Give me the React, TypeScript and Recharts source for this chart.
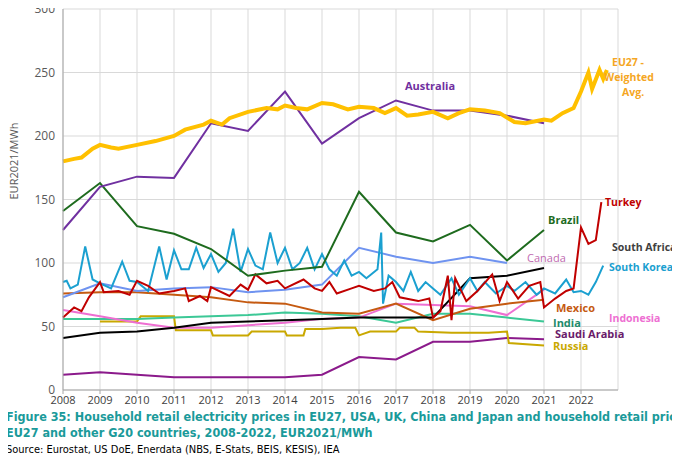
import React from "react";
import { CartesianGrid, Line, LineChart, XAxis, YAxis } from "recharts";

const years = [2008, 2009, 2010, 2011, 2012, 2013, 2014, 2015, 2016, 2017, 2018, 2019, 2020, 2021, 2022];
const yTicks = [0, 50, 100, 150, 200, 250, 300];

const eu27 = [
  [2008, 180], [2008.3, 182], [2008.5, 183], [2008.8, 190], [2009, 193], [2009.3, 191], [2009.5, 190], [2010, 193],
  [2010.5, 196], [2011, 200], [2011.3, 205], [2011.8, 209], [2012, 212], [2012.3, 209], [2012.5, 214], [2013, 219],
  [2013.5, 222], [2013.8, 221], [2014, 224], [2014.3, 222], [2014.6, 221], [2015, 226], [2015.3, 225], [2015.7, 221],
  [2016, 223], [2016.4, 222], [2016.7, 218], [2017, 222], [2017.3, 216], [2017.6, 217], [2018, 219], [2018.4, 214],
  [2018.7, 218], [2019, 221], [2019.4, 220], [2019.8, 218], [2020.2, 211], [2020.5, 210], [2021, 213], [2021.2, 212],
  [2021.5, 218], [2021.8, 222], [2022, 235], [2022.2, 250], [2022.3, 237], [2022.5, 252], [2022.6, 245], [2022.7, 252],
];
const australia = [
  [2008, 126], [2009, 160], [2010, 168], [2011, 167], [2012, 210], [2013, 204], [2014, 235], [2015, 194],
  [2016, 214], [2017, 228], [2018, 220], [2019, 220], [2020, 216], [2021, 210],
];
const brazil = [
  [2008, 141], [2009, 163], [2010, 129], [2011, 123], [2012, 111], [2013, 90], [2014, 94], [2015, 97],
  [2016, 156], [2017, 124], [2018, 117], [2019, 130], [2020, 102], [2021, 126],
];
const canada = [
  [2008, 73], [2009, 84], [2010, 78], [2011, 80], [2012, 81], [2013, 77], [2014, 79], [2015, 83],
  [2016, 112], [2017, 105], [2018, 100], [2019, 105], [2020, 100],
];
const southKorea = [
  [2008, 85], [2008.1, 86], [2008.2, 80], [2008.4, 83], [2008.6, 113], [2008.8, 87], [2009, 84], [2009.3, 80],
  [2009.6, 101], [2009.8, 86], [2010, 85], [2010.3, 78], [2010.6, 113], [2010.8, 87], [2011, 110], [2011.2, 95],
  [2011.4, 95], [2011.6, 112], [2011.8, 96], [2012, 107], [2012.2, 93], [2012.4, 100], [2012.6, 127], [2012.8, 93],
  [2013, 111], [2013.2, 98], [2013.4, 95], [2013.6, 124], [2013.8, 100], [2014, 112], [2014.2, 95], [2014.4, 100],
  [2014.6, 112], [2014.8, 95], [2015, 107], [2015.2, 95], [2015.4, 90], [2015.6, 102], [2015.8, 90], [2016, 93],
  [2016.2, 88], [2016.5, 95], [2016.6, 124], [2016.65, 68], [2016.8, 90], [2017, 85], [2017.2, 78], [2017.4, 93],
  [2017.6, 78], [2017.8, 85], [2018, 80], [2018.2, 75], [2018.5, 88], [2018.7, 75], [2019, 88], [2019.2, 78],
  [2019.4, 85], [2019.7, 76], [2020, 82], [2020.2, 78], [2020.5, 85], [2020.8, 75], [2021, 80], [2021.3, 76],
  [2021.6, 87], [2021.8, 77], [2022, 78], [2022.2, 75], [2022.4, 85], [2022.6, 98],
];
const turkey = [
  [2008, 57], [2008.3, 65], [2008.5, 62], [2008.7, 73], [2009, 85], [2009.1, 77], [2009.5, 78], [2009.8, 75],
  [2010, 86], [2010.3, 82], [2010.6, 76], [2011, 78], [2011.3, 80], [2011.4, 70], [2011.7, 74], [2011.9, 70],
  [2012, 81], [2012.5, 74], [2012.8, 83], [2013, 79], [2013.2, 91], [2013.5, 84], [2013.8, 86], [2014, 80],
  [2014.5, 87], [2014.8, 80], [2015, 78], [2015.2, 85], [2015.4, 76], [2015.8, 80], [2016, 82], [2016.4, 78],
  [2016.7, 80], [2016.9, 85], [2017.1, 73], [2017.6, 70], [2017.9, 72], [2018, 57], [2018.2, 62], [2018.4, 90],
  [2018.5, 55], [2018.6, 88], [2018.9, 70], [2019.2, 78], [2019.6, 91], [2019.8, 70], [2020, 85], [2020.3, 72],
  [2020.6, 82], [2020.9, 85], [2021, 65], [2021.3, 72], [2021.6, 78], [2021.8, 80], [2022, 128], [2022.2, 115],
  [2022.4, 118], [2022.55, 148],
];
const southAfrica = [
  [2008, 41], [2009, 45], [2010, 46], [2011, 49], [2012, 53], [2013, 54], [2014, 55], [2015, 56],
  [2016, 57], [2017, 57], [2018, 57], [2019, 88], [2020, 90], [2021, 96],
];
const mexico = [
  [2008, 76], [2009, 77], [2010, 77], [2011, 75], [2012, 73], [2013, 69], [2014, 68], [2015, 61],
  [2016, 60], [2017, 68], [2018, 55], [2019, 64], [2020, 68], [2021, 71],
];
const indonesia = [
  [2008, 63], [2009, 58], [2010, 53], [2011, 49], [2012, 49], [2013, 51], [2014, 53], [2015, 56],
  [2016, 57], [2017, 68], [2018, 67], [2019, 66], [2020, 59], [2021, 79],
];
const india = [
  [2008, 56], [2009, 56], [2010, 56], [2011, 57], [2012, 58], [2013, 59], [2014, 61], [2015, 60],
  [2016, 58], [2017, 53], [2018, 60], [2019, 60], [2020, 57], [2021, 54],
];
const russia = [
  [2009, 54], [2010, 54], [2010.1, 58], [2011, 58], [2011.05, 47], [2012, 47], [2012.05, 43], [2013, 43],
  [2013.1, 46], [2014, 46], [2014.05, 43], [2014.5, 43], [2014.55, 48], [2015, 48], [2015.5, 49], [2015.9, 49],
  [2016, 43], [2016.3, 46], [2017, 46], [2017.1, 49], [2017.5, 49], [2017.6, 46], [2018.5, 45], [2019.5, 45],
  [2020, 46], [2020.05, 37], [2021, 35],
];
const saudiArabia = [
  [2008, 12], [2009, 14], [2010, 12], [2011, 10], [2012, 10], [2013, 10], [2014, 10], [2015, 12],
  [2016, 26], [2017, 24], [2018, 38], [2019, 38], [2020, 41], [2021, 40],
];

const pts = (a: number[][]) => a.map(([x, y]) => ({ x, y }));

const series = [
  { name: "Saudi Arabia", data: saudiArabia, color: "#8b1a8b", w: 2 },
  { name: "Russia", data: russia, color: "#c9a800", w: 2 },
  { name: "India", data: india, color: "#3cc896", w: 2 },
  { name: "Indonesia", data: indonesia, color: "#ee6fd2", w: 2 },
  { name: "Mexico", data: mexico, color: "#c55a11", w: 2 },
  { name: "South Africa", data: southAfrica, color: "#000000", w: 2 },
  { name: "Canada", data: canada, color: "#6f93f0", w: 2 },
  { name: "South Korea", data: southKorea, color: "#1ba0d0", w: 2 },
  { name: "Turkey", data: turkey, color: "#c00000", w: 2 },
  { name: "Brazil", data: brazil, color: "#1e6b1e", w: 2 },
  { name: "Australia", data: australia, color: "#7030a0", w: 2 },
  { name: "EU27", data: eu27, color: "#ffc000", w: 4 },
];

const labels = [
  { t: "Australia", x: 405, y: 78, c: "#7030a0" },
  { t: "EU27 -", x: 612, y: 55, c: "#f5a623" },
  { t: "Weighted", x: 604, y: 70, c: "#f5a623" },
  { t: "Avg.", x: 622, y: 85, c: "#f5a623" },
  { t: "Turkey", x: 605, y: 195, c: "#c00000" },
  { t: "Brazil", x: 548, y: 212, c: "#1e6b1e" },
  { t: "South Africa", x: 612, y: 240, c: "#404040" },
  { t: "Canada", x: 527, y: 250, c: "#c06ab0", normal: true },
  { t: "South Korea", x: 609, y: 260, c: "#1ba0d0" },
  { t: "Mexico", x: 556, y: 300, c: "#c55a11" },
  { t: "Indonesia", x: 609, y: 311, c: "#ee6fd2" },
  { t: "India", x: 553, y: 315, c: "#1e8b6b" },
  { t: "Saudi Arabia", x: 555, y: 326, c: "#6a1b6a" },
  { t: "Russia", x: 553, y: 338, c: "#c9a800" },
];

const font = "'Open Sans', 'DejaVu Sans', sans-serif";
const captionFont = "'DejaVu Sans Condensed', 'Liberation Sans Narrow', 'DejaVu Sans', sans-serif";

export default function App() {
  return (
    <div style={{ position: "relative", width: 680, height: 463, margin: -8, background: "#fff", fontFamily: font }}>
      <LineChart width={680} height={410} margin={{ top: 9, right: 62, left: 0, bottom: 0 }}>
        <CartesianGrid stroke="#d9d9d9" />
        <XAxis
          dataKey="x"
          type="number"
          domain={[2008, 2023]}
          ticks={years}
          allowDuplicatedCategory={false}
          tick={{ fill: "#404040", fontSize: 11 }}
          stroke="#a6a6a6"
          tickSize={4}
          height={20}
        />
        <YAxis
          type="number"
          domain={[0, 300]}
          ticks={yTicks}
          width={63}
          tick={{ fill: "#595959", fontSize: 12 }}
          stroke="#a6a6a6"
          tickLine={false}
          label={{ value: "EUR2021/MWh", angle: -90, position: "insideLeft", offset: 14, style: { fill: "#595959", fontSize: 11 } }}
        />
        {series.map((s) => (
          <Line
            key={s.name}
            data={pts(s.data)}
            dataKey="y"
            type="linear"
            stroke={s.color}
            strokeWidth={s.w}
            dot={false}
            isAnimationActive={false}
          />
        ))}
      </LineChart>
      {labels.map((l) => (
        <div
          key={l.t}
          style={{
            position: "absolute",
            left: l.x,
            top: l.y,
            color: l.c,
            fontSize: l.x > 600 ? 10.5 : 11,
            fontWeight: l.normal ? 400 : 700,
            whiteSpace: "nowrap",
          }}
        >
          {l.t}
        </div>
      ))}
      <div style={{ position: "absolute", left: 6, top: 409, color: "#1a9a9a", fontWeight: 700, fontSize: 12.5, lineHeight: "16px", fontFamily: captionFont, whiteSpace: "nowrap" }}>
        <div>Figure 35: Household retail electricity prices in EU27, USA, UK, China and Japan and household retail prices in</div>
        <div>EU27 and other G20 countries, 2008-2022, EUR2021/MWh</div>
      </div>
      <div style={{ position: "absolute", left: 6, top: 443, color: "#000", fontSize: 11, fontFamily: captionFont }}>
        Source: Eurostat, US DoE, Enerdata (NBS, E-Stats, BEIS, KESIS), IEA
      </div>
    </div>
  );
}
